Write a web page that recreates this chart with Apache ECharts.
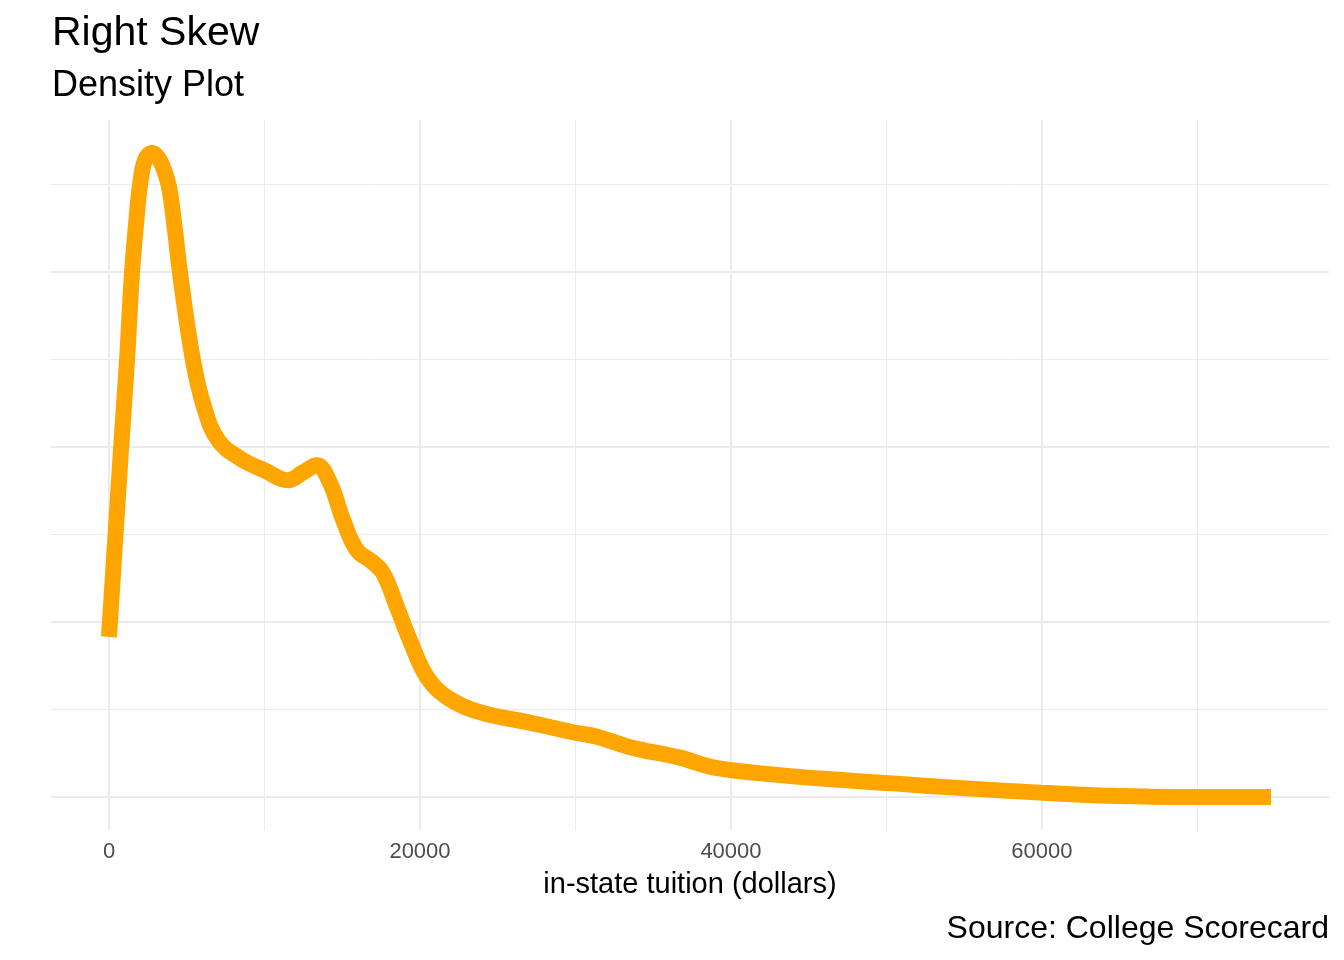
<!DOCTYPE html>
<html>
<head>
<meta charset="utf-8">
<script src="https://cdn.jsdelivr.net/npm/echarts@6/dist/echarts.min.js"></script>
<style>
  html, body { margin: 0; padding: 0; background: #fff; }
  #graph { width: 1344px; height: 960px; }
</style>
</head>
<body>
<div id="graph"></div>
<script>
// density curve (x in dollars, y in density x 1e-5)
const tuition = [0, 399, 772, 1158, 1479, 1736, 1994, 2315, 2765, 3151, 3473, 3859, 4244, 4566, 5402, 6109,
  7010, 8424, 10032, 11511, 12476, 13376, 14212, 15048, 15949, 16913, 17621, 18521, 19357,
  20450, 21736, 23859, 27074, 29839, 31383, 33505, 36720, 38842, 43151, 47460, 50868,
  54084, 59871, 63730, 66945, 70161, 74727]
const density = [1.83, 2.94, 3.97, 4.99, 5.99, 6.54, 6.99, 7.28, 7.36, 7.31, 7.20, 6.97, 6.48, 5.99, 4.99, 4.46,
  4.08, 3.87, 3.73, 3.62, 3.71, 3.79, 3.59, 3.17, 2.82, 2.69, 2.56, 2.17, 1.79,
  1.37, 1.14, 0.97, 0.85, 0.74, 0.69, 0.57, 0.45, 0.34, 0.25, 0.19, 0.15,
  0.11, 0.05, 0.017, 0.004, 0.0, 0.0]

const xMajor = [0, 20000, 40000, 60000]
const xMinor = [10000, 30000, 50000, 70000]
const yMajor = [0, 2, 4, 6]
const yMinor = [1, 3, 5, 7]
const xRange = [-3730, 78460]
const yRange = [-0.377, 7.737]

const font = 'Liberation Sans, Arial, Helvetica, sans-serif'
const grid = '#EBEBEB'

const dom = document.getElementById('graph')
const chart = echarts.init(dom, null, { renderer: 'canvas' })

function xAxisOf (ticks, width, withLabels) {
  return {
    type: 'value',
    min: xRange[0],
    max: xRange[1],
    position: 'bottom',
    axisLine: { show: false },
    axisTick: { show: false, customValues: ticks },
    axisLabel: withLabels
      ? { show: true, customValues: ticks, color: '#4D4D4D', fontSize: 22, fontFamily: font, margin: 11,
          formatter: v => String(v) }
      : { show: false },
    splitLine: { show: true, lineStyle: { color: grid, width } },
    name: withLabels ? 'in-state tuition (dollars)' : '',
    nameLocation: 'middle',
    nameGap: 40,
    nameTextStyle: { color: '#000', fontSize: 29, fontFamily: font }
  }
}

function yAxisOf (ticks, width) {
  return {
    type: 'value',
    min: yRange[0],
    max: yRange[1],
    axisLine: { show: false },
    axisTick: { show: false, customValues: ticks },
    axisLabel: { show: false },
    splitLine: { show: true, lineStyle: { color: grid, width } }
  }
}

const option = {
  backgroundColor: '#fff',
  animation: false,
  title: [
    { text: 'Right Skew', left: 52, top: 13, padding: 0,
      textStyle: { fontSize: 41, fontWeight: 'normal', color: '#000', fontFamily: font } },
    { text: 'Density Plot', left: 52, top: 68, padding: 0,
      textStyle: { fontSize: 36, fontWeight: 'normal', color: '#000', fontFamily: font } },
    { text: 'Source: College Scorecard', right: 15, top: 913, padding: 0,
      textStyle: { fontSize: 32, fontWeight: 'normal', color: '#000', fontFamily: font } }
  ],
  grid: { left: 51, right: 15, top: 120, bottom: 130, containLabel: false },
  xAxis: [xAxisOf(xMinor, 1, false), xAxisOf(xMajor, 2, true)],
  yAxis: [yAxisOf(yMinor, 1), yAxisOf(yMajor, 2)],
  series: [{
    type: 'line',
    xAxisIndex: 1,
    yAxisIndex: 1,
    data: tuition.map((x, i) => [x, density[i]]),
    showSymbol: false,
    smooth: 0.4,
    lineStyle: { color: '#FFA500', width: 16, cap: 'butt', join: 'round' }
  }]
}

chart.setOption(option)
</script>
</body>
</html>
